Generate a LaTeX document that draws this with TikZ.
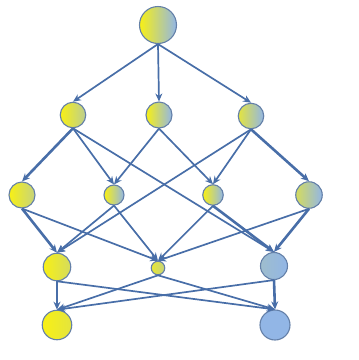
\documentclass[tikz,border=0pt]{standalone}
\usepackage{tikz}
\usetikzlibrary{arrows.meta}
\definecolor{edgeblue}{RGB}{72,110,168}
\definecolor{rimblue}{RGB}{100,128,168}
\definecolor{yel}{RGB}{248,240,20}
\definecolor{blu}{RGB}{146,182,230}

\begin{document}
\begin{tikzpicture}[x=1pt,y=-1pt]\tikzstyle{every node}+=[inner sep=0pt]
	  \tikzstyle{ball}=[circle,draw=rimblue,line width=1.1pt]
	  \tikzstyle{link}=[draw=edgeblue,line width=1.7pt,-{Stealth[length=8pt,width=7pt]}]
	  \tikzstyle{heavy}=[link,line width=2.6pt]
	  \useasboundingbox (0,0) rectangle (359,360);
	  % top
	  \node [ball,minimum size=37pt,left color=yel,middle color=yel!75!blu,right color=blu] (N0) at (158,25) {};
	  % second row
	  \node [ball,minimum size=25.5pt,left color=yel,right color=yel!40!blu] (A1) at (73,115) {};
	  \node [ball,minimum size=26pt,left color=yel,right color=blu] (A2) at (159,115) {};
	  \node [ball,minimum size=25.5pt,left color=yel!80!blu,right color=blu] (A3) at (251,116) {};
	  % third row
	  \node [ball,minimum size=26pt,left color=yel,right color=yel!50!blu] (B1) at (22,195) {};
	  \node [ball,minimum size=20pt,left color=yel,right color=blu] (B2) at (114,195) {};
	  \node [ball,minimum size=20.5pt,left color=yel,right color=blu] (B3) at (213,195) {};
	  \node [ball,minimum size=26.5pt,left color=yel!65!blu,right color=blu] (B4) at (309,195) {};
	  % fourth row
	  \node [ball,minimum size=27.5pt,left color=yel,middle color=yel,right color=yel!65!blu] (C1) at (57,267) {};
	  \node [ball,minimum size=13.5pt,left color=yel!85!blu,right color=yel!50!blu] (C2) at (158,268) {};
	  \node [ball,minimum size=27pt,left color=blu!88!yel,middle color=blu,right color=blu] (C3) at (274,266) {};
	  % bottom row
	  \node [ball,minimum size=29.5pt,left color=yel,right color=yel!80!blu] (D1) at (57,325) {};
	  \node [ball,minimum size=30pt,fill=blu] (D3) at (275,325) {};
	  % connectors
	  \foreach \s/\t in {N0/A1,N0/A2,N0/A3,A1/B2,A1/C3,A2/B2,A2/B3,A3/B3,A3/C1,
	                     B1/C2,B2/C1,B2/C2,B3/C2,B4/C2,C1/D3,C2/D1,C2/D3,C3/D1}
	    \draw [link] (\s.south) -- (\t.north);
	  \foreach \s/\t in {A1/B1,A3/B4,B1/C1,B3/C3,B4/C3,C1/D1,C3/D3}
	    \draw [heavy] (\s.south) -- (\t.north);
	\end{tikzpicture}
\end{document}
